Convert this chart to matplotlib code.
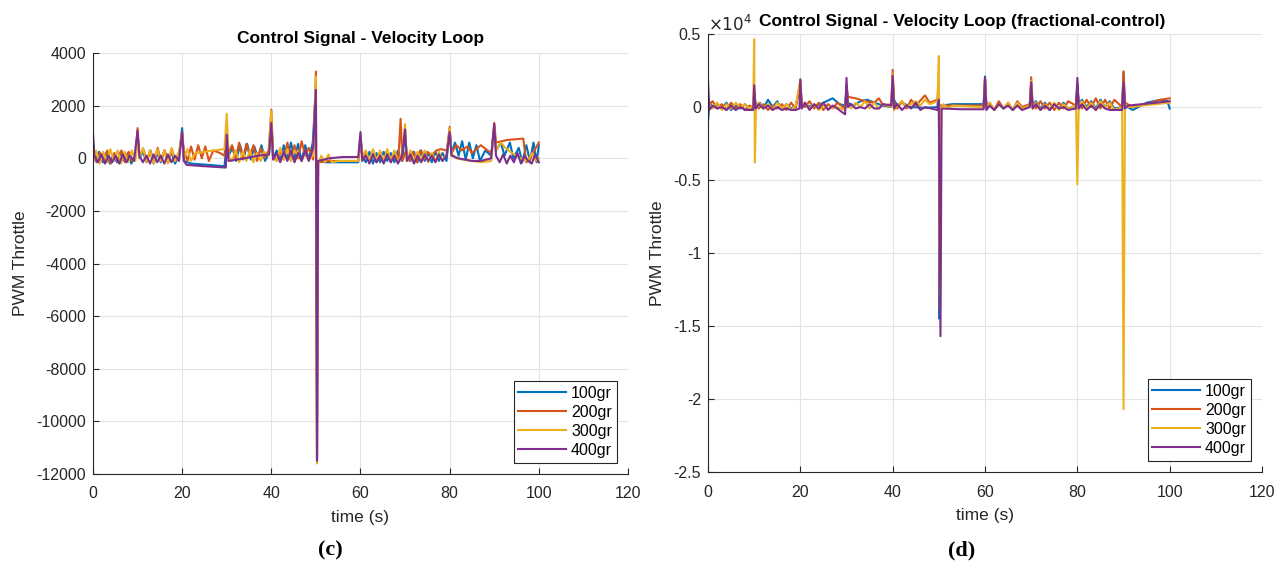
import numpy as np
import matplotlib
matplotlib.use("Agg")
import matplotlib.pyplot as plt
from matplotlib.ticker import FuncFormatter

plt.rcParams['font.family'] = ['Liberation Sans', 'DejaVu Sans']
plt.rcParams['axes.unicode_minus'] = False

# MATLAB default line colours
colors = ['#0072BD', '#D95319', '#EDB120', '#7E2F8E']
labels = ['100gr', '200gr', '300gr', '400gr']

# (c) classic control, (time s, PWM) pairs
left_100 = [(0, 600), (0.6, -100), (1.4, 250), (2.2, -150), (3, 200), (3.8, -200), (4.6, 150), (5.4, -150),
            (6.2, 250), (7, -100), (7.8, 200), (8.6, -200), (9.5, 100), (10, 900), (10.4, 0), (11.2, 250),
            (12, -150), (12.8, 300), (13.6, -200), (14.4, 200), (15.2, -150), (16, 300), (16.8, -100),
            (17.6, 250), (18.4, -200), (19.3, 100), (20, 1150), (20.4, -100), (22, -200), (26, -250),
            (29.5, -300), (30, 600), (30.4, 100), (31.3, 400), (32.1, -100), (33, 500), (33.8, 0), (34.6, 550),
            (35.4, -50), (36.2, 450), (37, 0), (37.8, 500), (38.6, -100), (39.5, 200), (40, 1400), (40.4, 0),
            (41.2, 300), (42, -100), (42.8, 500), (43.6, -50), (44.4, 600), (45.2, 0), (46, 550), (46.8, -100),
            (47.6, 500), (48.4, -50), (49.3, 600), (50, 2700), (50.25, -11400), (50.5, -100), (52, -150),
            (56, -150), (59.5, -150), (60, 800), (60.4, 100), (61.2, -150), (62, 250), (62.8, -200), (63.6, 200),
            (64.4, -150), (65.2, 250), (66, -100), (66.8, 200), (67.6, -150), (68.4, 300), (69.3, -100),
            (70, 900), (70.4, 100), (71.2, -100), (72, 250), (72.8, -150), (73.6, 300), (74.4, -100),
            (75.2, 200), (76, -150), (76.8, 250), (77.6, -100), (78.4, 200), (79.3, -100), (80, 1100),
            (80.4, 200), (81.2, 600), (82, 100), (82.8, 650), (83.6, -50), (84.4, 600), (85.2, 0), (86, 500),
            (86.8, -100), (88, 300), (89.3, 100), (90, 1200), (90.4, 300), (91.5, 600), (92.3, 100), (93.5, 600),
            (94.3, 0), (95.5, 400), (96.3, -150), (97.2, 500), (98, -100), (98.8, 600), (99.5, -150), (100, 500)]
left_200 = [(0, 300), (0.8, -150), (1.6, 200), (2.4, -100), (3.2, 300), (4, -200), (4.8, 200), (5.6, -100),
            (6.4, 300), (7.2, -150), (8, 250), (8.8, -100), (9.6, 200), (10, 1150), (10.4, 100), (11.3, 350),
            (12.1, -100), (12.9, 300), (13.7, -150), (14.5, 400), (15.3, -100), (16.1, 300), (16.9, -150),
            (17.7, 350), (18.5, -100), (19.4, 300), (20, 900), (20.4, 300), (21.2, -100), (22, 450),
            (22.8, -50), (23.6, 500), (24.4, 0), (25.2, 450), (26, -100), (27, 300), (28.5, 200), (29.5, 100),
            (30, 1100), (30.4, 200), (31.2, 500), (32, 0), (32.8, 600), (33.6, -50), (34.4, 550), (35.2, 100),
            (36, 500), (36.8, -100), (37.6, 400), (38.4, 0), (39.4, 300), (40, 1850), (40.4, 100), (41.2, -100),
            (42, 300), (42.8, -50), (43.6, 600), (44.4, -100), (45.2, 500), (46, 0), (46.8, 650), (47.6, 100),
            (48.4, 400), (49.4, -50), (50, 3300), (50.25, -11300), (50.5, -150), (53, -100), (59.5, -100),
            (60, 700), (60.4, 0), (61.2, 250), (62, -100), (62.8, 300), (63.6, -150), (64.4, 250), (65.2, -100),
            (66, 300), (66.8, -150), (67.6, 250), (68.5, 0), (69, 1500), (69.4, -100), (70.2, 300), (71, -100),
            (71.8, 250), (72.6, -150), (73.4, 300), (74.2, -50), (75, 250), (76, 100), (77, 300), (78, 350),
            (79.4, 300), (80, 1200), (80.4, 200), (81.5, 500), (82.7, 300), (84, 450), (85, 200), (87, 500),
            (88.5, 300), (89.4, 200), (90, 1350), (90.4, 600), (93, 700), (96.5, 750), (97.2, -150), (98, -50),
            (99, 300), (100, 600)]
left_300 = [(0, -100), (0.7, 300), (1.5, -200), (2.3, 250), (3.1, -150), (3.9, 350), (4.7, -100), (5.5, 300),
            (6.3, -200), (7.1, 250), (7.9, -150), (8.7, 300), (9.5, -100), (10, 800), (10.4, 0), (11.2, 400),
            (12, -150), (12.8, 300), (13.6, -200), (14.4, 350), (15.2, -100), (16, 300), (16.8, -200),
            (17.6, 400), (18.4, -100), (19.3, 200), (20, 1000), (20.4, 0), (21.2, 350), (22, -100), (23, 200),
            (25, 250), (27, 300), (29.5, 350), (30, 1700), (30.4, 100), (31.2, -100), (32, 300), (32.8, -150),
            (33.6, 250), (34.4, -100), (35.2, 300), (36, -150), (36.8, 200), (37.6, -100), (38.4, 250),
            (39.4, 100), (40, 1800), (40.4, 0), (41.2, -100), (42, 400), (42.8, -50), (43.6, 350), (44.4, -100),
            (45.2, 300), (46, 100), (46.8, -100), (47.6, 200), (48.4, -50), (49.4, 100), (50, 3100),
            (50.25, -11600), (50.5, -250), (51.2, 100), (52, -150), (52.8, 150), (53.6, -150), (55, -100),
            (59.5, -100), (60, 900), (60.4, 100), (61.2, 300), (62, -150), (62.8, 350), (63.6, -100),
            (64.4, 300), (65.2, -150), (66, 350), (66.8, -100), (67.6, 300), (68.4, -150), (69.3, 200),
            (70, 1300), (70.4, -100), (71.2, 300), (72, -150), (72.8, 250), (73.6, -100), (74.4, 300),
            (75.2, -150), (76, 200), (76.8, -100), (77.6, 250), (78.4, -100), (79.3, 150), (80, 1150),
            (80.4, 200), (81.5, 0), (83, -50), (85, -100), (87, -150), (89.3, -100), (90, 1200), (90.4, 300),
            (91.5, 600), (92.5, 400), (94, 200), (96, 0), (97.5, -100), (98.5, 200), (99.3, -100), (100, 0)]
left_400 = [(0, 1000), (0.3, 100), (1.1, -150), (1.9, 150), (2.7, -200), (3.5, 100), (4.3, -150), (5.1, 100),
            (5.9, -200), (6.7, 150), (7.5, -150), (8.3, 100), (9.2, -100), (10, 1050), (10.4, 100), (11.2, -150),
            (12, 100), (12.8, -200), (13.6, 150), (14.4, -150), (15.2, 100), (16, -200), (16.8, 150),
            (17.6, -150), (18.4, 100), (19.3, -100), (20, 1000), (20.4, -100), (21, -250), (25, -300),
            (29.8, -350), (30, 900), (30.4, -100), (34, 0), (37, 100), (39.5, 150), (40, 1350), (40.4, -50),
            (41.2, 200), (42, -150), (42.8, 250), (43.6, -100), (44.4, 300), (45.2, -150), (46, 200),
            (46.8, -100), (47.6, 300), (48.4, -100), (49.4, 400), (50, 2600), (50.25, -11500), (50.5, -100),
            (53, 0), (56, 50), (59.5, 50), (60, 1000), (60.4, -100), (61.2, 100), (62, -200), (62.8, 150),
            (63.6, -150), (64.4, 100), (65.2, -200), (66, 150), (66.8, -150), (67.6, 100), (68.4, -200),
            (69.3, 100), (70, 1100), (70.4, -100), (71.2, 150), (72, -200), (72.8, 100), (73.6, -150),
            (74.4, 150), (75.2, -100), (76, 100), (76.8, -150), (77.6, 150), (78.4, -100), (79.3, 100),
            (80, 1000), (80.4, 100), (82, 0), (85, -100), (87, -100), (89.3, 0), (90, 1300), (90.4, 100),
            (91.2, -150), (92, 150), (92.8, -200), (93.6, 100), (94.4, -150), (95.2, 200), (96, -200),
            (96.8, 100), (97.6, -100), (98.4, -200), (99.2, 150), (100, -150)]

# (d) fractional control
right_100 = [(0, -1000), (0.3, 300), (1, 0), (2, 200), (3, -100), (4, 300), (5, -200), (6, 100), (7, -100),
             (8, 200), (9, -100), (9.8, -50), (10, 1000), (10.3, 100), (11.2, 300), (12, -100), (13, 500),
             (14, 0), (15, 400), (16, -150), (17, 200), (18, -100), (19, 100), (20, 1500), (20.3, 200),
             (21.5, 100), (23, 0), (25, 300), (27, 600), (28.5, 200), (29.7, 100), (30, 1200), (30.3, 300),
             (31.5, 100), (33, 400), (34.5, 500), (36, 300), (38, 100), (39.7, 0), (40, 1800), (40.3, 500),
             (41, 100), (42, 300), (44, 0), (47, -50), (49.7, 0), (50, 1500), (50.1, -14500), (50.4, 100),
             (53, 200), (59.7, 200), (60, 2100), (60.3, 0), (61, 200), (62, -200), (63, 300), (64, -100),
             (65, 200), (66, -200), (67, 300), (68, -100), (69.7, 200), (70, 1500), (70.3, 100), (71, 400),
             (72, -100), (73, 300), (74, -200), (75, 200), (76, -100), (77, 300), (78, -100), (79.7, 100),
             (80, 1600), (80.3, 200), (81, 500), (82, 0), (83, 400), (84, -100), (85, 500), (86, 0), (87, 400),
             (88, -100), (89.7, 0), (90, 2400), (90.3, 100), (92, -200), (95, 300), (98, 500), (99.5, 400),
             (100, -100)]
right_200 = [(0, 500), (0.3, 200), (1, 400), (2, -100), (3, 200), (4, -200), (5, 300), (6, -100), (7, 200),
             (8, -200), (9, 100), (9.8, 0), (10, 1200), (10.3, 200), (11, -100), (12, 200), (13, -200),
             (14, 100), (15, -100), (16, 200), (17, -200), (18, 300), (19, -100), (20, 1800), (20.3, 300),
             (21, 0), (22, 400), (23, -100), (24, 300), (25, -200), (26, 200), (27, -100), (28, 300),
             (29.7, -100), (30, 1500), (30.3, 700), (32, 600), (34, 400), (36, 300), (37, 600), (38, 100),
             (39.7, 200), (40, 2550), (40.3, 300), (41, -100), (42, 400), (43, -100), (44, 500), (45, 100),
             (47, 800), (48, 300), (49.7, 500), (50, 2000), (50.2, -13800), (50.5, 100), (55, 100),
             (59.7, 100), (60, 1900), (60.3, 100), (61, 300), (62, -200), (63, 400), (64, -100), (65, 300),
             (66, -200), (67, 400), (68, 0), (69.7, 200), (70, 2050), (70.3, 300), (71, -100), (72, 400),
             (73, -100), (74, 300), (75, -200), (76, 300), (77, -100), (78, 400), (79.7, 100), (80, 1500),
             (80.3, 300), (81, -100), (82, 500), (83, 0), (84, 600), (85, -100), (86, 500), (87, -100),
             (88, 500), (89.7, 0), (90, 2450), (90.3, 300), (92, 0), (95, 200), (98, 500), (100, 600)]
right_300 = [(0, 0), (0.3, 200), (1, -100), (2, 300), (3, -200), (4, 200), (5, -100), (6, 300), (7, 0),
             (8, 200), (9, -100), (9.8, 100), (10, 4650), (10.15, -3800), (10.4, 100), (11, 300), (12, -100),
             (13, 200), (14, -200), (15, 300), (16, -100), (17, 200), (18, -200), (19, 100), (20, 1900),
             (20.3, 0), (21, 300), (22, -100), (23, 200), (24, -200), (25, 100), (26, -100), (28, 0),
             (29.7, -200), (30, 1000), (30.3, 200), (31, -100), (32, 300), (33, 0), (34, 400), (35, -100),
             (36, 300), (37, -100), (38, 200), (39.7, 0), (40, 2300), (40.3, -200), (41, 100), (42, 400),
             (43, 0), (45, 400), (46, 100), (47, 500), (48, 200), (49.7, 400), (50, 3500), (50.25, -13000),
             (50.5, 0), (51, 200), (52, -100), (53, 100), (59.7, 0), (60, 1900), (60.3, -100), (61, 300),
             (62, -200), (63, 200), (64, -100), (65, 300), (66, -200), (67, 300), (68, -100), (69.7, 100),
             (70, 1800), (70.3, -100), (71, 300), (72, -200), (73, 200), (74, -100), (75, 300), (76, -200),
             (77, 200), (78, -100), (79.7, 100), (80, -5300), (80.3, 200), (81, 400), (82, -100), (83, 300),
             (84, -200), (85, 400), (86, 0), (87, 300), (88, -200), (89.7, 0), (90, -20700), (90.3, 200),
             (91, 0), (94, 100), (97, 200), (100, 300)]
right_400 = [(0, 1850), (0.3, -200), (1, 100), (2, -100), (3, 0), (4, -200), (5, 100), (6, -200), (7, 0),
             (8, -200), (9, -200), (9.8, -200), (10, 1500), (10.3, -100), (11, 200), (12, -100), (13, 100),
             (14, -200), (15, 0), (16, -200), (17, -100), (18, -200), (19, -200), (19.8, -100), (20, 1900),
             (20.3, -100), (21, 300), (22, -200), (23, 200), (24, -100), (25, 300), (26, -200), (27, 100),
             (28, -100), (29.7, -500), (30, 2000), (30.3, 0), (31, 200), (32, -100), (33, 0), (34, -100),
             (35, 200), (36, -100), (37, -100), (38, 200), (39.7, 100), (40, 2150), (40.3, -100), (41, 200),
             (42, -200), (43, 100), (44, -100), (45, 300), (46, -200), (47, 0), (49.7, -200), (50, 500),
             (50.35, -15700), (50.6, -100), (55, -150), (59.7, -150), (60, 2000), (60.3, -200), (61, 100),
             (62, -200), (63, 200), (64, -100), (65, 100), (66, -200), (67, 100), (68, -200), (69.7, 0),
             (70, 1700), (70.3, -100), (71, 200), (72, -200), (73, 100), (74, -200), (75, 200), (76, -100),
             (77, 0), (78, -200), (79.7, -100), (80, 2000), (80.3, -100), (81, 200), (82, -200), (83, 100),
             (84, -200), (85, 200), (86, -100), (87, -200), (88, -200), (89.7, -200), (90, 1700), (90.3, -100),
             (91, 100), (94, 200), (97, 300), (100, 400)]

left_series = [left_100, left_200, left_300, left_400]
right_series = [right_100, right_200, right_300, right_400]

fig = plt.figure(figsize=(12.84, 5.68), dpi=100)
ax1 = fig.add_axes([0.0724, 0.1655, 0.4167, 0.741])
ax2 = fig.add_axes([0.5514, 0.169, 0.4315, 0.771])

spine_col = '#262626'
for ax, all_series in ((ax1, left_series), (ax2, right_series)):
    for series, c, lab in zip(all_series, colors, labels):
        t, v = zip(*series)
        ax.plot(t, v, color=c, lw=1.5, label=lab)
    ax.set_xlim(0, 120)
    ax.set_xticks(np.arange(0, 121, 20))
    ax.grid(True, color='#e3e3e3', lw=0.8)
    ax.set_axisbelow(True)
    ax.spines['top'].set_visible(False)
    ax.spines['right'].set_visible(False)
    ax.spines['left'].set_color(spine_col)
    ax.spines['bottom'].set_color(spine_col)
    ax.tick_params(direction='in', length=4, width=0.8, color=spine_col, labelsize=11.5,
                   labelcolor='#262626')
    ax.tick_params(axis='x', pad=9)
    ax.tick_params(axis='y', pad=5)
    ax.set_xlabel('time (s)', fontsize=12.5, color='#262626', labelpad=6)
    ax.set_ylabel('PWM Throttle', fontsize=12.5, color='#262626', labelpad=6)
    leg = ax.legend(loc='lower right', fontsize=11.5, frameon=True, fancybox=False, framealpha=1,
                    edgecolor='#262626', handlelength=3.0, borderpad=0.3, labelspacing=0.25,
                    handletextpad=0.3, borderaxespad=0.7)
    leg.get_frame().set_linewidth(0.8)

ax1.set_ylim(-12000, 4000)
ax1.set_yticks(np.arange(-12000, 4001, 2000))
ax1.set_title('Control Signal - Velocity Loop', fontsize=12.5, fontweight='bold', pad=7)

ax2.set_ylim(-25000, 5000)
ax2.set_yticks(np.arange(-25000, 5001, 5000))
ax2.yaxis.set_major_formatter(FuncFormatter(lambda v, p: f'{v / 1e4:g}'))
ax2.set_title('Control Signal - Velocity Loop (fractional-control)', fontsize=12.5, fontweight='bold',
              x=0.458, pad=6)
ax2.text(0.0, 1.0, r'$\times10^{4}$', transform=ax2.transAxes, fontsize=12, color='#262626',
         ha='left', va='bottom')

fig.text(330 / 1284, 1 - 550 / 568, '(c)', family=['Liberation Serif', 'DejaVu Serif'],
         fontsize=16, fontweight='bold', ha='center', va='center')
fig.text(962 / 1284, 1 - 550 / 568, '(d)', family=['Liberation Serif', 'DejaVu Serif'],
         fontsize=16, fontweight='bold', ha='center', va='center')

fig.savefig('out.png', dpi=100)
